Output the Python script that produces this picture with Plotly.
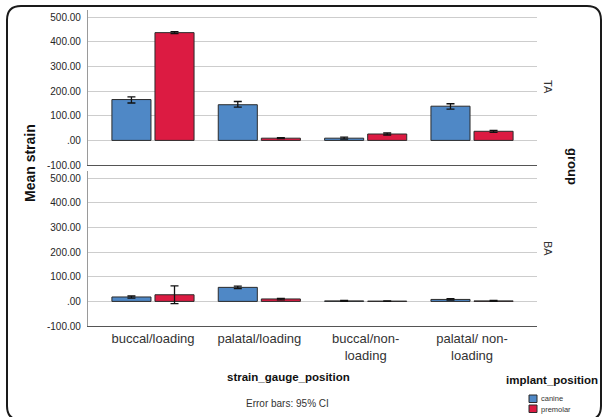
import plotly.graph_objects as go

# ---------------- data ----------------
categories = ["buccal/loading", "palatal/loading", "buccal/non-loading", "palatal/ non-loading"]
category_labels = ["buccal/loading", "palatal/loading", "buccal/non-<br>loading", "palatal/ non-<br>loading"]

ta_canine_mean = [166, 145, 9, 139]
ta_canine_upper = [177, 158, 13, 149]
ta_canine_lower = [152, 135, 5, 127]

ta_premolar_mean = [438, 9, 26, 37]
ta_premolar_upper = [442, 11, 30, 41]
ta_premolar_lower = [434, 7, 22, 33]

ba_canine_mean = [18, 57, 2, 8]
ba_canine_upper = [22, 62, 4, 11]
ba_canine_lower = [13, 52, 0, 5]

ba_premolar_mean = [27, 10, 1, 2]
ba_premolar_upper = [63, 12, 2, 4]
ba_premolar_lower = [-9, 6, 0, 0]

y_tickvals = [-100, 0, 100, 200, 300, 400, 500]
y_ticktext = ["-100.00", ".00", "100.00", "200.00", "300.00", "400.00", "500.00"]

series_names = ["canine", "premolar"]
group_names = ["TA", "BA"]

# ---------------- style ----------------
FONT = "Liberation Sans, Arial, sans-serif"
BLUE = "#4f88c6"
RED = "#dc1b42"
colors = {"canine": BLUE, "premolar": RED}

W, H = 603, 417
ML, MR, MT, MB = 88, 66, 10, 91
PW = W - ML - MR
PH = H - MT - MB


def xp(px):
    return (px - ML) / PW


def yp(py):
    return (H - MB - py) / PH


fig = go.Figure()


def add_bar(name, mean, upper, lower, xa, ya):
    fig.add_trace(go.Bar(
        x=categories, y=mean, name=name,
        xaxis=xa, yaxis=ya, showlegend=False,
        marker=dict(color=colors[name], line=dict(color="#2b2b2b", width=1)),
        error_y=dict(type="data", symmetric=False,
                     array=[u - m for u, m in zip(upper, mean)],
                     arrayminus=[m - l for m, l in zip(mean, lower)],
                     color="#111111", thickness=1.3, width=4),
    ))


add_bar("canine", ta_canine_mean, ta_canine_upper, ta_canine_lower, "x", "y")
add_bar("premolar", ta_premolar_mean, ta_premolar_upper, ta_premolar_lower, "x", "y")
add_bar("canine", ba_canine_mean, ba_canine_upper, ba_canine_lower, "x2", "y2")
add_bar("premolar", ba_premolar_mean, ba_premolar_upper, ba_premolar_lower, "x2", "y2")

panel_h = 155
top_dom = [1 - panel_h / PH, 1]
bot_dom = [0, panel_h / PH]

xcommon = dict(
    type="category", categoryorder="array", categoryarray=categories,
    range=[-0.611, 3.611], showgrid=False, zeroline=False,
    showline=True, linecolor="#555555", linewidth=1.2, ticks="",
)
ycommon = dict(
    range=[-100, 530], tickvals=y_tickvals, ticktext=y_ticktext,
    showgrid=True, gridcolor="#cdcdcd", gridwidth=1.3, zeroline=False,
    showline=True, linecolor="#9a9a9a", linewidth=1.2, ticks="",
    tickfont=dict(family=FONT, size=10, color="#262626"),
    ticklabelstandoff=4,
)

fig.update_layout(
    width=W, height=H,
    margin=dict(l=ML, r=MR, t=MT, b=MB, pad=0),
    paper_bgcolor="white", plot_bgcolor="white",
    barmode="group", bargap=0.19, bargroupgap=0.093,
    font=dict(family=FONT, color="#222222"),
    xaxis=dict(**xcommon, anchor="y", showticklabels=False),
    xaxis2=dict(**xcommon, anchor="y2", tickvals=categories, ticktext=category_labels,
                tickfont=dict(family=FONT, size=13, color="#333333"),
                ticklabelstandoff=0),
    yaxis=dict(**ycommon, domain=top_dom, anchor="x"),
    yaxis2=dict(**ycommon, domain=bot_dom, anchor="x2"),
)

annotations = [
    dict(text="<b>Mean strain</b>", x=xp(30), y=yp(163), textangle=-90,
         font=dict(family=FONT, size=14, color="#111111")),
    dict(text="<b>group</b>", x=xp(573), y=yp(166), textangle=90,
         font=dict(family=FONT, size=13, color="#111111")),
    dict(text=group_names[0], x=xp(548), y=yp(87), textangle=90,
         font=dict(family=FONT, size=11, color="#333333")),
    dict(text=group_names[1], x=xp(548), y=yp(248), textangle=90,
         font=dict(family=FONT, size=11, color="#333333")),
    dict(text="<b>strain_gauge_position</b>", x=xp(288), y=yp(377),
         font=dict(family=FONT, size=11.5, color="#111111")),
    dict(text="Error bars: 95% CI", x=xp(287), y=yp(403),
         font=dict(family=FONT, size=10, color="#333333")),
    dict(text="<b>implant_position</b>", x=xp(552), y=yp(380),
         font=dict(family=FONT, size=11.5, color="#111111")),
    dict(text=series_names[0], x=xp(539), y=yp(399), xanchor="left",
         font=dict(family=FONT, size=7.5, color="#333333")),
    dict(text=series_names[1], x=xp(539), y=yp(409.5), xanchor="left",
         font=dict(family=FONT, size=7.5, color="#333333")),
]
for a in annotations:
    a.setdefault("xanchor", "center")
    a.update(xref="paper", yref="paper", yanchor="middle", showarrow=False)
fig.update_layout(annotations=annotations)

shapes = []
# legend squares
for i, name in enumerate(series_names):
    y0 = 395 + i * 10
    shapes.append(dict(type="rect", xref="paper", yref="paper",
                       x0=xp(529), x1=xp(537), y0=yp(y0 + 7.5), y1=yp(y0),
                       fillcolor=colors[name], line=dict(color="#2b2b2b", width=1)))

# rounded outer frame
L, R, T, B, r = 7, 601, 6, 420, 14
path = (f"M {xp(L)},{yp(B - r)} L {xp(L)},{yp(T + r)} "
        f"Q {xp(L)},{yp(T)} {xp(L + r)},{yp(T)} "
        f"L {xp(R - r)},{yp(T)} Q {xp(R)},{yp(T)} {xp(R)},{yp(T + r)} "
        f"L {xp(R)},{yp(B - r)} Q {xp(R)},{yp(B)} {xp(R - r)},{yp(B)} "
        f"L {xp(L + r)},{yp(B)} Q {xp(L)},{yp(B)} {xp(L)},{yp(B - r)} Z")
shapes.append(dict(type="path", xref="paper", yref="paper", path=path,
                   line=dict(color="#1a1a1a", width=2)))
fig.update_layout(shapes=shapes)

fig.write_html(
    "out.html",
    config={"displayModeBar": False},
    post_script="document.body.style.margin='0';document.body.style.padding='0';",
)
